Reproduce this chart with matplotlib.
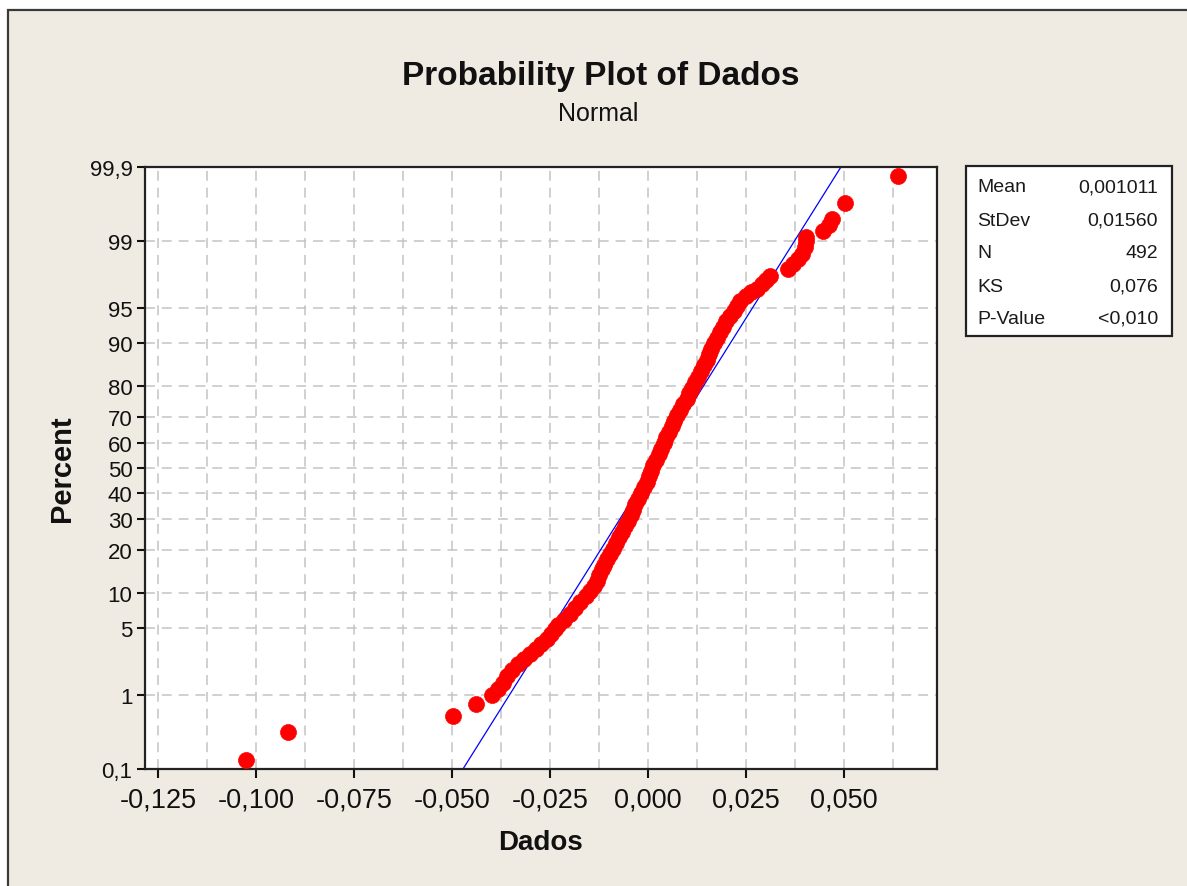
import matplotlib
matplotlib.use('Agg')
import matplotlib.pyplot as plt
from matplotlib.patches import Rectangle
from matplotlib.ticker import FixedLocator, FixedFormatter, MultipleLocator, NullFormatter
import numpy as np
from statistics import NormalDist

# points: value of Dados and plotted percent
dados_x = [-0.1026, -0.0918, -0.0497, -0.0439, -0.0398, -0.0383, -0.0370, -0.0360,
           -0.0347, -0.0332, -0.0316, -0.0301, -0.0286, -0.0273, -0.0258, -0.0247,
           -0.0237, -0.0230, -0.0214, -0.0199, -0.0186, -0.0173, -0.0158, -0.0148,
           -0.0138, -0.0130, -0.0125, -0.0117, -0.0112, -0.0105, -0.0097, -0.0089,
           -0.0082, -0.0074, -0.0066, -0.0059, -0.0051, -0.0043, -0.0038, -0.0033,
           -0.0026, -0.0018, -0.0010, -0.0003, 0.0003, 0.0008, 0.0013, 0.0020,
           0.0028, 0.0033, 0.0041, 0.0046, 0.0054, 0.0061, 0.0066, 0.0074,
           0.0082, 0.0089, 0.0099, 0.0105, 0.0112, 0.0120, 0.0128, 0.0135,
           0.0143, 0.0151, 0.0156, 0.0161, 0.0168, 0.0176, 0.0184, 0.0191,
           0.0199, 0.0209, 0.0219, 0.0227, 0.0235, 0.0250, 0.0263, 0.0278,
           0.0291, 0.0301, 0.0311, 0.0357, 0.0370, 0.0383, 0.0393, 0.0401,
           0.0403, 0.0403, 0.0446, 0.0462, 0.0469, 0.0503, 0.0638]
dados_pct = [0.136, 0.336, 0.545, 0.770, 0.990, 1.16, 1.37, 1.64,
             1.90, 2.21, 2.49, 2.81, 3.16, 3.54, 3.96, 4.42,
             4.92, 5.35, 5.94, 6.69, 7.54, 8.44, 9.44, 10.33,
             11.29, 12.30, 13.61, 14.99, 15.96, 17.51, 18.86, 20.28,
             22.07, 23.95, 25.56, 27.59, 29.32, 31.46, 33.32, 35.57,
             37.52, 39.86, 42.27, 44.27, 46.73, 48.76, 51.24, 53.27,
             55.73, 57.73, 60.14, 62.48, 64.43, 66.68, 68.54, 70.68,
             72.41, 74.44, 76.05, 77.93, 79.42, 81.14, 82.49, 84.04,
             85.48, 86.62, 87.90, 88.91, 90.03, 90.91, 91.87, 92.62,
             93.44, 94.06, 94.65, 95.18, 95.68, 96.13, 96.46, 96.70,
             97.06, 97.32, 97.56, 97.95, 98.19, 98.41, 98.60, 98.84,
             99.01, 99.11, 99.25, 99.37, 99.47, 99.67, 99.864]

# fitted normal line (ends read at the axis limits)
fit_x = [-0.0472, 0.0492]
fit_pct = [0.1, 99.9]

stats_nomes = ['Mean', 'StDev', 'N', 'KS', 'P-Value']
stats_valores = ['0,001011', '0,01560', '492', '0,076', '<0,010']

y_ticks = [0.1, 1, 5, 10, 20, 30, 40, 50, 60, 70, 80, 90, 95, 99, 99.9]
y_labels = ['0,1', '1', '5', '10', '20', '30', '40', '50', '60', '70', '80',
            '90', '95', '99', '99,9']
x_ticks = [-0.125, -0.100, -0.075, -0.050, -0.025, 0.000, 0.025, 0.050]
x_labels = ['-0,125', '-0,100', '-0,075', '-0,050', '-0,025', '0,000', '0,025', '0,050']

plt.rcParams['font.family'] = ['Liberation Sans', 'DejaVu Sans']

nd = NormalDist()
_ppf = np.vectorize(lambda p: nd.inv_cdf(p) if 0 < p < 1 else np.nan, otypes=[float])
_cdf = np.vectorize(lambda z: nd.cdf(z) if np.isfinite(z) else np.nan, otypes=[float])


def pct_to_z(p):
    p = np.clip(np.asarray(p, dtype=float) / 100.0, 1e-9, 1 - 1e-9)
    return _ppf(p)


def z_to_pct(z):
    return _cdf(np.asarray(z, dtype=float)) * 100.0


W, H = 1187, 887
fig = plt.figure(figsize=(W / 100, H / 100), dpi=100, facecolor='white')

# beige panel with dark top/left edge
fig.patches.append(Rectangle((8 / W, -0.05), 1.1, (H - 11) / H + 0.05,
                             transform=fig.transFigure, facecolor='#F0EBE2',
                             edgecolor='#3a3a3a', linewidth=1.6, zorder=-10))

ax = fig.add_axes([145 / W, (H - 770) / H, (937 - 145) / W, (770 - 168) / H])
ax.set_zorder(1)
ax.set_facecolor('white')
ax.set_yscale('function', functions=(pct_to_z, z_to_pct))
ax.set_ylim(0.1, 99.9)
ax.set_xlim(-0.1283, 0.0737)

ax.yaxis.set_major_locator(FixedLocator(y_ticks))
ax.yaxis.set_major_formatter(FixedFormatter(y_labels))
ax.yaxis.set_minor_locator(FixedLocator([]))
ax.xaxis.set_major_locator(FixedLocator(x_ticks))
ax.xaxis.set_major_formatter(FixedFormatter(x_labels))
ax.xaxis.set_minor_locator(MultipleLocator(0.0125))
ax.xaxis.set_minor_formatter(NullFormatter())

grid_kw = dict(color='#C4C4C4', linewidth=1.1, linestyle=(0, (6.5, 4.5)))
ax.grid(True, axis='y', which='major', **grid_kw)
ax.grid(True, axis='x', which='both', **grid_kw)
ax.set_axisbelow(True)

ax.plot(fit_x, fit_pct, color='#0000FF', linewidth=0.9, zorder=2)
ax.plot(dados_x, dados_pct, linestyle='none', marker='o', markersize=11.5,
        markerfacecolor='#FF0000', markeredgecolor='#FF0000', markeredgewidth=0.5,
        zorder=3)

for s in ax.spines.values():
    s.set_linewidth(1.6)
    s.set_color('#222222')

ax.tick_params(axis='y', which='major', direction='out', length=6, width=1.5,
               labelsize=16, pad=3, colors='#111111')
ax.tick_params(axis='x', which='major', direction='out', length=6.5, width=1.5,
               labelsize=19.5, pad=6, colors='#111111')
ax.tick_params(axis='x', which='minor', length=0)

ax.set_xlabel('Dados', fontsize=20, fontweight='bold', labelpad=12, color='#111111')
ax.set_ylabel('Percent', fontsize=21, fontweight='bold', labelpad=10, color='#111111')

fig.text(601 / W, (H - 76) / H, 'Probability Plot of Dados', ha='center', va='center',
         fontsize=24, fontweight='bold', color='#111111')
fig.text(598 / W, (H - 114) / H, 'Normal', ha='center', va='center',
         fontsize=18, color='#111111')

# statistics box
fig.patches.append(Rectangle((966 / W, (H - 337) / H), 206 / W, 170 / H,
                             transform=fig.transFigure, facecolor='white',
                             edgecolor='#222222', linewidth=1.6, zorder=1))
linhas_y = [188, 221, 254, 287, 319]
for nome, valor, yy in zip(stats_nomes, stats_valores, linhas_y):
    fig.text(977 / W, (H - yy) / H, nome, ha='left', va='center',
             fontsize=14, color='#1a1a1a')
    fig.text(1158 / W, (H - yy) / H, valor, ha='right', va='center',
             fontsize=14, color='#1a1a1a')

fig.savefig('out.png', dpi=100, facecolor=fig.get_facecolor())
